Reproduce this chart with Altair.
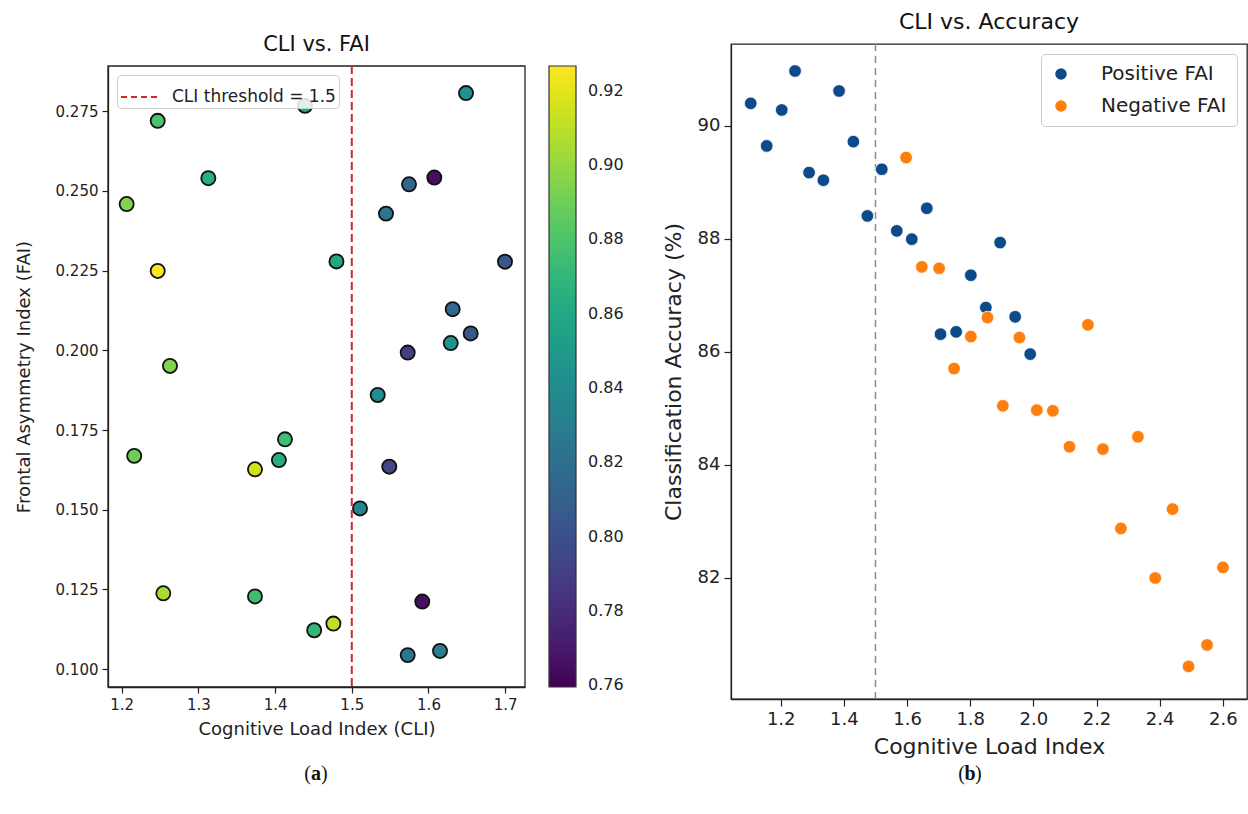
import altair as alt
import pandas as pd

# ---------------- Panel (a): CLI vs. FAI ----------------
a_cli = [1.247, 1.439, 1.313, 1.2065, 1.247, 1.480, 1.263, 1.2164, 1.4129, 1.405,
         1.3738, 1.2543, 1.3738, 1.451, 1.476, 1.6489, 1.6076, 1.5746, 1.5446, 1.6997,
         1.6315, 1.655, 1.629, 1.5729, 1.5338, 1.5489, 1.5107, 1.5919, 1.5729, 1.615]
a_fai = [0.272, 0.2767, 0.254, 0.2459, 0.2249, 0.2279, 0.1951, 0.1669, 0.1721, 0.1656,
         0.1627, 0.1238, 0.1228, 0.1122, 0.1143, 0.2807, 0.2542, 0.2521, 0.2429, 0.2278,
         0.2129, 0.2053, 0.2023, 0.1993, 0.186, 0.1635, 0.1504, 0.1212, 0.1044, 0.1057]
a_acc = [0.88, 0.86, 0.865, 0.895, 0.925, 0.86, 0.895, 0.89, 0.875, 0.865,
         0.915, 0.905, 0.875, 0.87, 0.91, 0.845, 0.765, 0.815, 0.825, 0.805,
         0.815, 0.805, 0.845, 0.79, 0.84, 0.795, 0.835, 0.765, 0.825, 0.83]
a_xdomain = [1.1822, 1.7258]
a_ydomain = [0.0944, 0.2892]
a_xticks = [1.2, 1.3, 1.4, 1.5, 1.6, 1.7]
a_yticks = [0.100, 0.125, 0.150, 0.175, 0.200, 0.225, 0.250, 0.275]
cbar_domain = [0.7595, 0.9267]
cbar_ticks = [0.76, 0.78, 0.80, 0.82, 0.84, 0.86, 0.88, 0.90, 0.92]
threshold = [1.5]
threshold_label = ["CLI threshold = 1.5"]

# ---------------- Panel (b): CLI vs. Accuracy ----------------
pos_cli = [1.105, 1.1556, 1.2032, 1.2453, 1.2897, 1.335, 1.3847, 1.430, 1.4744, 1.52,
           1.5675, 1.615, 1.6626, 1.706, 1.7555, 1.8948, 1.802, 1.8496, 1.9424, 1.99]
pos_acc = [90.40, 89.646, 90.283, 90.973, 89.174, 89.039, 90.619, 89.722, 88.407, 89.233,
           88.142, 87.995, 88.543, 86.313, 86.354, 87.935, 87.357, 86.784, 86.62, 85.96]
neg_cli = [1.597, 1.6468, 1.7016, 1.8547, 1.802, 1.956, 2.1727, 1.749, 1.9034, 2.011,
           2.0618, 2.1145, 2.2203, 2.3312, 2.4409, 2.2773, 2.386, 2.6005, 2.55, 2.4915]
neg_acc = [89.44, 87.504, 87.48, 86.607, 86.27, 86.253, 86.478, 85.704, 85.044, 84.968,
           84.956, 84.319, 84.278, 84.496, 83.216, 82.873, 81.995, 82.183, 80.81, 80.43]
b_xdomain = [1.0425, 2.6766]
b_ydomain = [79.853, 91.451]
b_xticks = [1.2, 1.4, 1.6, 1.8, 2.0, 2.2, 2.4, 2.6]
b_yticks = [82, 84, 86, 88, 90]
groups = ["Positive FAI", "Negative FAI"]
group_colors = ["#0d4a8a", "#ff7f0e"]

FONT = "DejaVu Sans"
SERIF = "Liberation Serif"
INK = "#222222"


def caption(letter, cx, cy):
    """Sub-figure caption '(x)' with a bold letter, as three text pieces."""
    d = pd.DataFrame({"k": [letter]})
    base = dict(font=SERIF, fontSize=20, color="#111111", baseline="middle")
    lp = alt.Chart(d).mark_text(text="(", align="right", **base).encode(
        x=alt.value(cx - 5), y=alt.value(cy))
    mid = alt.Chart(d).mark_text(text=letter, align="center", fontWeight="bold", **base).encode(
        x=alt.value(cx), y=alt.value(cy))
    rp = alt.Chart(d).mark_text(text=")", align="left", **base).encode(
        x=alt.value(cx + 5), y=alt.value(cy))
    return [lp, mid, rp]


# ---------------- build panel (a) ----------------
df_a = pd.DataFrame({"cli": a_cli, "fai": a_fai, "acc": a_acc})
df_thr = pd.DataFrame({"cli": threshold, "label": threshold_label})

WA, HA, DROP = 417, 621, 22          # panel (a) sits DROP px lower than panel (b)
HA_TOT = HA + DROP

xa = alt.X("cli:Q", scale=alt.Scale(domain=a_xdomain, nice=False, zero=False),
           axis=alt.Axis(values=a_xticks, format=".1f", title="Cognitive Load Index (CLI)",
                         labelFontSize=15, titleFontSize=18, titlePadding=8))
ya = alt.Y("fai:Q", scale=alt.Scale(domain=a_ydomain, nice=False, zero=False,
                                    range=[HA_TOT, DROP]),
           axis=alt.Axis(values=a_yticks, format=".3f", title="Frontal Asymmetry Index (FAI)",
                         labelFontSize=15, titleFontSize=18, titlePadding=22))

frame_a = alt.Chart(df_thr).mark_rect(fill="white", fillOpacity=0, stroke=INK,
                                      strokeWidth=1.3).encode(
    x=alt.datum(a_xdomain[0]),
    x2=alt.datum(a_xdomain[1]),
    y=alt.datum(a_ydomain[1]),
    y2=alt.datum(a_ydomain[0]),
)

pts_a = alt.Chart(df_a).mark_circle(size=200, opacity=1, stroke="#111111", strokeWidth=1.8).encode(
    x=xa, y=ya,
    fill=alt.Fill("acc:Q", scale=alt.Scale(scheme="viridis", domain=cbar_domain),
                  legend=alt.Legend(title=None, orient="none", legendX=WA + 24, legendY=DROP,
                                    direction="vertical",
                                    gradientLength=HA, gradientThickness=27, values=cbar_ticks,
                                    format=".2f", labelFontSize=16, labelOffset=12,
                                    gradientStrokeColor="#333333", gradientStrokeWidth=1.2)),
)

rule_a = alt.Chart(df_thr).mark_rule(strokeDash=[8, 4], strokeWidth=2).encode(
    x="cli:Q",
    y=alt.datum(a_ydomain[1]),
    y2=alt.datum(a_ydomain[0]),
    stroke=alt.Stroke("label:N", scale=alt.Scale(range=["#d62728"]),
                      legend=alt.Legend(title=None, orient="none", legendX=9, legendY=DROP + 9,
                                        symbolType="stroke",
                                        symbolDash=[6, 4], symbolStrokeWidth=2, symbolSize=1296,
                                        labelFontSize=17, labelOffset=14, labelLimit=400,
                                        padding=3,
                                        strokeColor="#cccccc", fillColor="rgba(255,255,255,0.85)",
                                        cornerRadius=4)),
)

left = alt.layer(frame_a, pts_a, rule_a, *caption("a", 208, 730)).properties(
    width=WA, height=HA_TOT,
    title=alt.TitleParams("CLI vs. FAI", fontSize=21, offset=9, dy=20),
)

# ---------------- build panel (b) ----------------
df_b = pd.DataFrame({
    "cli": pos_cli + neg_cli,
    "acc": pos_acc + neg_acc,
    "grp": [groups[0]] * len(pos_cli) + [groups[1]] * len(neg_cli),
})

WB, HB = 516, 655
xb = alt.X("cli:Q", scale=alt.Scale(domain=b_xdomain, nice=False, zero=False),
           axis=alt.Axis(values=b_xticks, format=".1f", title="Cognitive Load Index",
                         labelFontSize=18, titleFontSize=22, titlePadding=8, tickSize=7))
yb = alt.Y("acc:Q", scale=alt.Scale(domain=b_ydomain, nice=False, zero=False),
           axis=alt.Axis(values=b_yticks, format="d", title="Classification Accuracy (%)",
                         labelFontSize=18, titleFontSize=22, titlePadding=12, tickSize=7))

pts_b = alt.Chart(df_b).mark_circle(size=160, opacity=1, stroke="white", strokeWidth=0.8).encode(
    x=xb, y=yb,
    color=alt.Color("grp:N", sort=groups,
                    scale=alt.Scale(domain=groups, range=group_colors),
                    legend=alt.Legend(title=None, orient="top-right", symbolType="circle",
                                      symbolSize=170, labelFontSize=20, labelOffset=30,
                                      padding=10, rowPadding=12, strokeColor="#cccccc",
                                      fillColor="white", cornerRadius=4, offset=10)),
)

rule_b = alt.Chart(pd.DataFrame({"cli": threshold})).mark_rule(
    color="#8a8a8a", strokeDash=[7, 5], strokeWidth=1.5).encode(x="cli:Q")

right = alt.layer(rule_b, pts_b, *caption("b", 239, 730)).properties(
    width=WB, height=HB,
    view=alt.ViewBackground(stroke=INK, strokeWidth=1.3),
    title=alt.TitleParams("CLI vs. Accuracy", fontSize=22, offset=9),
)

chart = alt.hconcat(left, right, spacing=36).resolve_scale(
    x="independent", y="independent", color="independent", fill="independent",
    stroke="independent"
).properties(
    padding={"left": 14, "top": 10, "right": 0, "bottom": 0}
).configure(
    font=FONT,
).configure_view(
    stroke="transparent"
).configure_axis(
    grid=False, domainColor=INK, tickColor=INK, labelColor=INK, titleColor=INK,
    labelFont=FONT, titleFont=FONT, titleFontWeight="normal", tickSize=6,
    domainWidth=1.3, tickWidth=1.2, labelPadding=4
).configure_title(
    font=FONT, fontWeight="normal", color="#111111", anchor="middle"
).configure_legend(
    labelFont=FONT, labelColor=INK
)

chart.save("out.html", embed_options={"renderer": "svg", "actions": False})
